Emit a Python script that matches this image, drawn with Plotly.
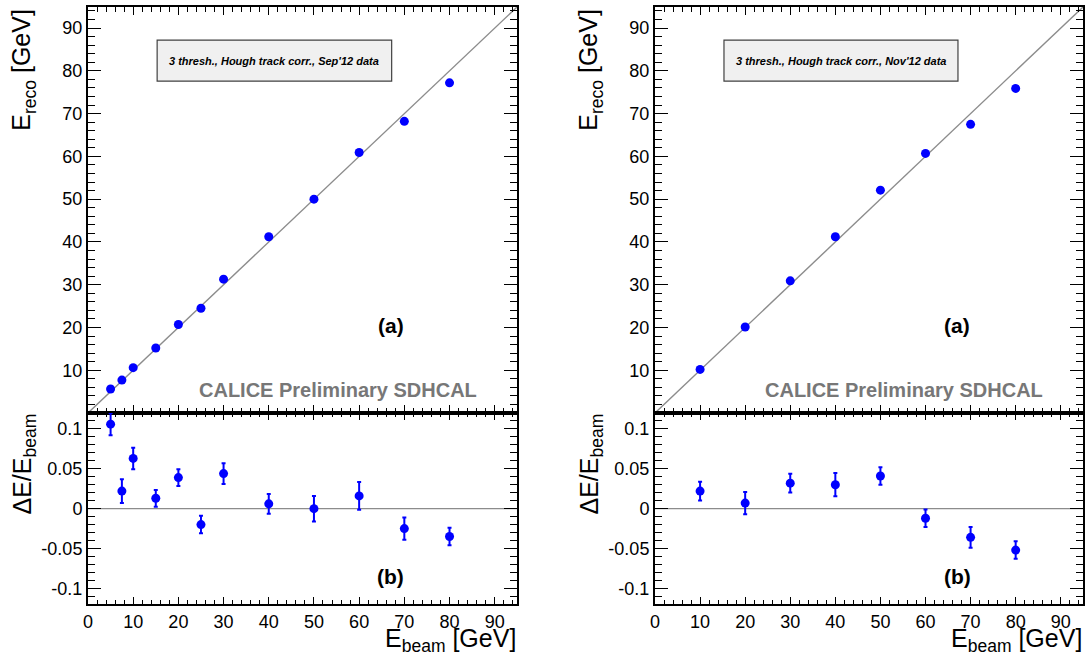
import plotly.graph_objects as go

# Sep'12 run
ebeam_sep = [5, 7.5, 10, 15, 20, 25, 30, 40, 50, 60, 70, 80]
ereco_sep = [5.6, 7.7, 10.6, 15.2, 20.7, 24.5, 31.3, 41.2, 50.0, 60.9, 68.2, 77.2]
dev_sep = [0.106, 0.022, 0.063, 0.013, 0.039, -0.020, 0.044, 0.006, 0.000, 0.016, -0.025, -0.035]
err_sep = [0.014, 0.015, 0.0135, 0.0105, 0.0105, 0.011, 0.013, 0.0125, 0.016, 0.0175, 0.014, 0.011]

# Nov'12 run
ebeam_nov = [10, 20, 30, 40, 50, 60, 70, 80]
ereco_nov = [10.2, 20.1, 30.9, 41.2, 52.1, 60.7, 67.5, 75.9]
dev_nov = [0.022, 0.007, 0.032, 0.030, 0.041, -0.012, -0.036, -0.052]
err_nov = [0.0117, 0.014, 0.0117, 0.0146, 0.011, 0.011, 0.013, 0.011]

# reference lines
diag = [0, 95]
flat_x = [0, 95]
flat_y = [0, 0]

x_ticks = [0, 10, 20, 30, 40, 50, 60, 70, 80, 90]
y_ticks_top = [10, 20, 30, 40, 50, 60, 70, 80, 90]
y_ticks_bot = [-0.1, -0.05, 0, 0.05, 0.1]
y_ticklabels_bot = ["-0.1", "-0.05", "0", "0.05", "0.1"]

legend_texts = ["3 thresh., Hough track corr., Sep'12 data",
                "3 thresh., Hough track corr., Nov'12 data"]

W, H = 1089, 657
FONT = "Liberation Sans, Arial, Helvetica, sans-serif"
BLUE = "#0000ff"


def px_x(p):
    return p / W


def px_y(p):
    return 1 - p / H


left_dom = [px_x(88), px_x(517.3)]
right_dom = [px_x(655), px_x(1083.3)]
top_dom = [px_y(413), px_y(6.7)]
bot_dom = [px_y(604.3), px_y(413)]

fig = go.Figure()

panels = [
    dict(xt="x", yt="y", xb="x2", yb="y2", eb=ebeam_sep, er=ereco_sep, dv=dev_sep, de=err_sep),
    dict(xt="x3", yt="y3", xb="x4", yb="y4", eb=ebeam_nov, er=ereco_nov, dv=dev_nov, de=err_nov),
]

for p in panels:
    fig.add_trace(go.Scatter(x=diag, y=diag, mode="lines", xaxis=p["xt"], yaxis=p["yt"],
                             line=dict(color="#8c8c8c", width=1.4), showlegend=False,
                             hoverinfo="skip"))
    fig.add_trace(go.Scatter(x=p["eb"], y=p["er"], mode="markers", xaxis=p["xt"], yaxis=p["yt"],
                             marker=dict(color=BLUE, size=9), showlegend=False))
    fig.add_trace(go.Scatter(x=flat_x, y=flat_y, mode="lines", xaxis=p["xb"], yaxis=p["yb"],
                             line=dict(color="#8c8c8c", width=1.4), showlegend=False,
                             hoverinfo="skip"))
    fig.add_trace(go.Scatter(x=p["eb"], y=p["dv"], mode="markers", xaxis=p["xb"], yaxis=p["yb"],
                             marker=dict(color=BLUE, size=9),
                             error_y=dict(type="data", array=p["de"], color=BLUE,
                                          thickness=2, width=2),
                             showlegend=False))

axis_common = dict(showline=True, linecolor="black", linewidth=2, mirror="allticks",
                   ticks="inside", tickcolor="black", tickwidth=1.3,
                   showgrid=False, zeroline=False, automargin=False,
                   tickfont=dict(family=FONT, size=18, color="black"))


def xaxis(domain, anchor, labels):
    return dict(axis_common, domain=domain, anchor=anchor, range=[0, 95],
                tickmode="array", tickvals=x_ticks, ticktext=[str(v) for v in x_ticks],
                showticklabels=labels, ticklen=8 if not labels else 7,
                minor=dict(dtick=2, ticklen=5 if not labels else 4, tickwidth=1.1,
                           tickcolor="black", ticks="inside"))


def yaxis_top(domain, anchor):
    return dict(axis_common, domain=domain, anchor=anchor, range=[0, 95],
                tickmode="array", tickvals=y_ticks_top,
                ticklen=13,
                minor=dict(dtick=2, ticklen=7, tickwidth=1.1, tickcolor="black", ticks="inside"))


def yaxis_bot(domain, anchor):
    return dict(axis_common, domain=domain, anchor=anchor, range=[-0.12, 0.12],
                tickmode="array", tickvals=y_ticks_bot, ticktext=y_ticklabels_bot,
                ticklen=13,
                minor=dict(tick0=0, dtick=0.01, ticklen=7, tickwidth=1.1,
                           tickcolor="black", ticks="inside"))


fig.update_layout(
    width=W, height=H,
    margin=dict(l=0, r=0, t=0, b=0, autoexpand=False),
    paper_bgcolor="white", plot_bgcolor="white",
    xaxis=xaxis(left_dom, "y", False),
    yaxis=yaxis_top(top_dom, "x"),
    xaxis2=xaxis(left_dom, "y2", True),
    yaxis2=yaxis_bot(bot_dom, "x2"),
    xaxis3=xaxis(right_dom, "y3", False),
    yaxis3=yaxis_top(top_dom, "x3"),
    xaxis4=xaxis(right_dom, "y4", True),
    yaxis4=yaxis_bot(bot_dom, "x4"),
)

shapes = []
annotations = []
for i, p in enumerate(panels):
    xr = p["xt"]
    yr = p["yt"]
    frame_left = 88 if i == 0 else 655
    frame_right = 517.3 if i == 0 else 1083.3
    # info box
    shapes.append(dict(type="rect", xref=xr, yref=yr, x0=15.3, x1=67.2, y0=77.6, y1=87.2,
                       fillcolor="#f0f0f0", line=dict(color="#404040", width=1.2),
                       layer="above"))
    annotations.append(dict(xref=xr, yref=yr, x=41.25, y=82.4, text="<b><i>%s</i></b>" % legend_texts[i],
                            showarrow=False, font=dict(family=FONT, size=11, color="black"),
                            xanchor="center", yanchor="middle"))
    annotations.append(dict(xref=xr, yref=yr, x=67, y=20.4, text="<b>(a)</b>",
                            showarrow=False, font=dict(family=FONT, size=21, color="black"),
                            xanchor="center", yanchor="middle"))
    annotations.append(dict(xref=xr, yref=yr, x=55.3, y=5.4, text="<b>CALICE Preliminary SDHCAL</b>",
                            showarrow=False, font=dict(family=FONT, size=20, color="#777777"),
                            xanchor="center", yanchor="middle"))
    annotations.append(dict(xref=p["xb"], yref=p["yb"], x=67, y=-0.085, text="<b>(b)</b>",
                            showarrow=False, font=dict(family=FONT, size=21, color="black"),
                            xanchor="center", yanchor="middle"))
    # axis titles
    annotations.append(dict(xref="paper", yref="paper", x=px_x(frame_left - 65), y=px_y(6.7),
                            text="E<sub>reco</sub> [GeV]", textangle=-90, showarrow=False,
                            font=dict(family=FONT, size=25, color="black"),
                            xanchor="center", yanchor="top"))
    annotations.append(dict(xref="paper", yref="paper", x=px_x(frame_left - 65), y=px_y(412),
                            text="\u0394E/E<sub>beam</sub>", textangle=-90, showarrow=False,
                            font=dict(family=FONT, size=25, color="black"),
                            xanchor="center", yanchor="top"))
    annotations.append(dict(xref="paper", yref="paper", x=px_x(frame_right), y=0,
                            text="E<sub>beam</sub> [GeV]", showarrow=False,
                            font=dict(family=FONT, size=25, color="black"),
                            xanchor="right", yanchor="bottom", borderpad=0))

fig.update_layout(shapes=shapes, annotations=annotations)

fig.write_html("out.html")
